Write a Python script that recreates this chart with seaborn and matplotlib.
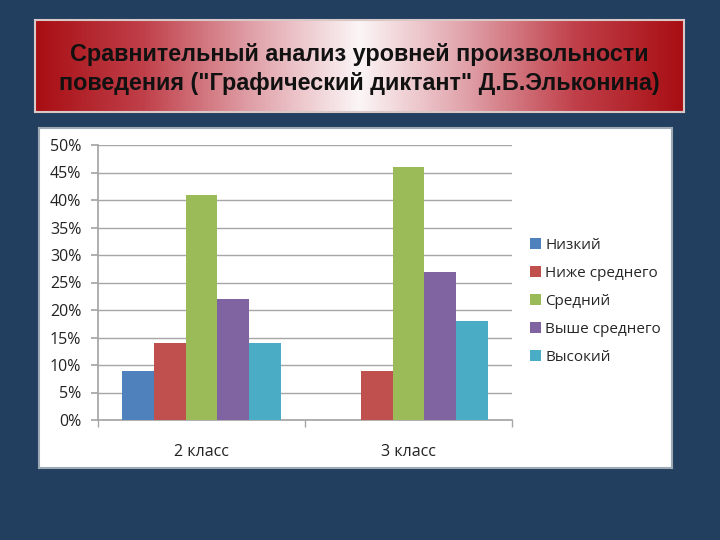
import numpy as np
import pandas as pd
import matplotlib
matplotlib.use("Agg")
import matplotlib.pyplot as plt
from matplotlib.patches import Rectangle
from matplotlib.colors import LinearSegmentedColormap
import seaborn as sns

classes = ["2 класс", "3 класс"]
levels = ["Низкий", "Ниже среднего", "Средний", "Выше среднего", "Высокий"]
values_2 = [9, 14, 41, 22, 14]
values_3 = [0, 9, 46, 27, 18]
colors = ["#4F81BD", "#C0504D", "#9BBB59", "#8064A2", "#4BACC6"]
yticks = [0, 5, 10, 15, 20, 25, 30, 35, 40, 45, 50]
title = 'Сравнительный анализ уровней произвольности\nповедения ("Графический диктант" Д.Б.Эльконина)'

rows = []
for c, vals in zip(classes, [values_2, values_3]):
    for lvl, v in zip(levels, vals):
        rows.append({"class": c, "level": lvl, "value": v})
df = pd.DataFrame(rows)

sns.set_theme(style="white")
plt.rcParams['font.family'] = ['Open Sans', 'DejaVu Sans']

W, H = 720, 540
fig = plt.figure(figsize=(7.2, 5.4), dpi=100)
fig.patch.set_facecolor("#233F5F")

# White chart panel (as a background axes)
pax = fig.add_axes([39 / W, 1 - 468 / H, 633 / W, 340 / H], zorder=-5)
pax.set_facecolor("white")
pax.set_xticks([]); pax.set_yticks([])
for s in pax.spines.values():
    s.set_color("#9DA9B5"); s.set_linewidth(1.5)

# Title box with red-white gradient
tax = fig.add_axes([35 / W, 1 - 112 / H, 649 / W, 92 / H])
x = np.linspace(0, 1, 400)
g = 1 - np.abs(x - 0.5) * 2
cmap = LinearSegmentedColormap.from_list("rw", ["#A80E13", "#C0404A", "#E0A0A8", "#FBF5F6"])
tax.imshow(np.tile(g, (10, 1)), cmap=cmap, aspect="auto", extent=[0, 1, 0, 1], vmin=0, vmax=1)
tax.set_xlim(0, 1); tax.set_ylim(0, 1)
tax.set_xticks([]); tax.set_yticks([])
for s in tax.spines.values():
    s.set_color("#D8C8C8"); s.set_linewidth(1.5)
tax.text(0.5, 0.47, title, ha="center", va="center", fontsize=16.8, fontweight="bold",
         family=["Liberation Sans", "DejaVu Sans"], color="#111111", linespacing=1.32)

ax = fig.add_axes([98 / W, 1 - 420 / H, 414 / W, 275 / H])
ax.set_facecolor("none")
sns.barplot(data=df, x="class", y="value", hue="level", order=classes, hue_order=levels,
            palette=colors, width=0.77, linewidth=0, saturation=1, ax=ax, zorder=3, legend=False)
ax.set_xlim(-0.5, 1.5)
ax.set_ylim(0, 50)
ax.set_yticks(yticks)
ax.set_yticklabels([f"{t}%" for t in yticks], fontsize=11.5, color="#222222")
ax.yaxis.grid(True, color="#A6A6A6", linewidth=1, zorder=0)
ax.set_axisbelow(True)
ax.set_xlabel(""); ax.set_ylabel("")
for s in ["top", "right"]:
    ax.spines[s].set_visible(False)
ax.spines["left"].set_color("#A6A6A6")
ax.spines["bottom"].set_color("#A6A6A6")
ax.tick_params(axis="y", which="major", length=5, color="#A6A6A6", direction="out", pad=7, left=True)
ax.set_xticks([0, 1])
ax.set_xticklabels(classes, fontsize=11.5, color="#222222")
ax.tick_params(axis="x", which="major", length=0, pad=17)
ax.set_xticks([-0.5, 0.5, 1.5], minor=True)
ax.tick_params(axis="x", which="minor", length=5, color="#A6A6A6", direction="out", bottom=True)

handles = [Rectangle((0, 0), 1, 1, facecolor=c, edgecolor="none") for c in colors]
fig.legend(handles, levels, loc="upper left", bbox_to_anchor=(524 / W, 1 - 232 / H),
           frameon=False, fontsize=11, handlelength=0.74, handleheight=0.74,
           handletextpad=0.25, labelspacing=0.85, borderaxespad=0)

fig.savefig("out.png", dpi=100, facecolor=fig.get_facecolor())
